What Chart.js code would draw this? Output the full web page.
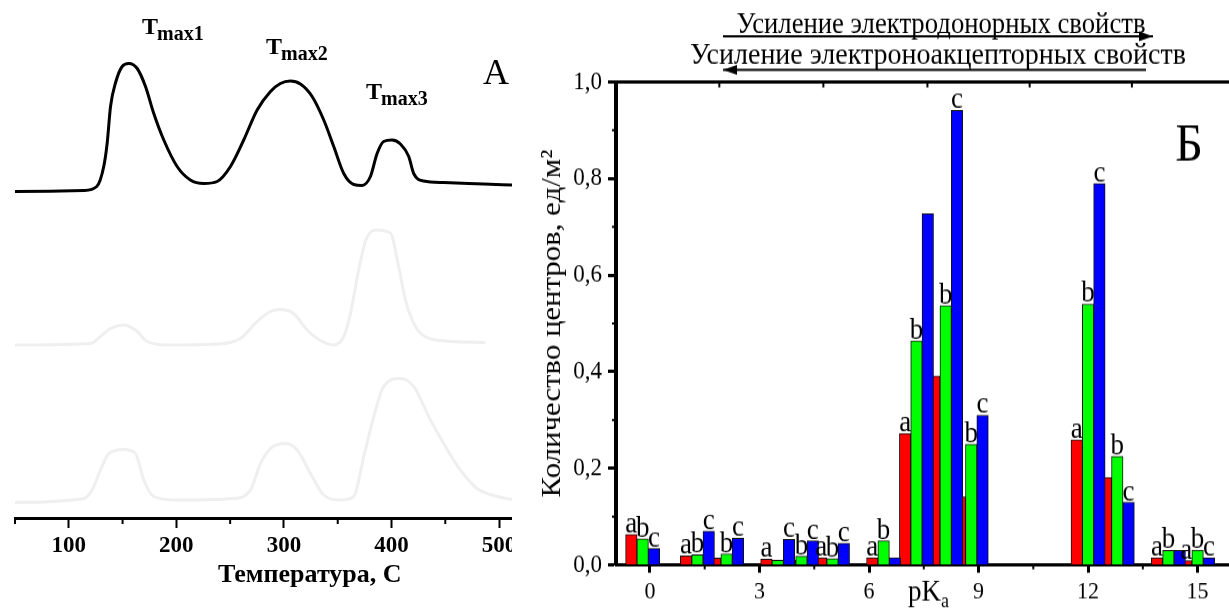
<!DOCTYPE html>
<html>
<head>
<meta charset="utf-8">
<script src="https://cdn.jsdelivr.net/npm/chart.js@4.4.1/dist/chart.umd.min.js"></script>
<style>
    html, body { margin: 0; padding: 0; background: #fff; overflow: hidden; }
    #wrapA { position: absolute; left: 0; top: 0; width: 512px; height: 608px; }
    /* panel B of the original is slightly stretched vertically */
    #wrapB { position: absolute; left: 520px; top: 0; width: 709px; height: 553px; transform: scaleY(1.1); transform-origin: 0 0; }
</style>
</head>
<body>
<div id="wrapA"><canvas id="chartA" width="512" height="608"></canvas></div>
<div id="wrapB"><canvas id="chartB" width="709" height="553"></canvas></div>
<script>
// ---- panel A: TPD curves (temperature, arbitrary signal) ----
const tempTicks = [100, 200, 300, 400, 500];
const tempMinorTicks = [50, 150, 250, 350, 450];

const blackTemp = [50, 114, 126, 132.5, 135.7, 138.8, 143.4, 149.6, 155.8, 163.6, 171.3, 179, 188.3, 200.7, 213, 225.5, 237.9, 250.3, 262.6, 275.1, 287.5, 296.7, 306, 315.3, 326.2, 337, 346.3, 355.6, 364.9, 372.6, 380.4, 386.6, 392.7, 400.5, 408.3, 416, 420.6, 429.9, 448.5, 485.7, 512];
const blackSignal = [65.3, 65.5, 66.3, 70.3, 75, 82.3, 87, 90.3, 90.9, 89.9, 86.3, 80.9, 75.6, 70.3, 67.6, 66.9, 67.3, 70.3, 75.6, 81.6, 85.3, 86.9, 87.4, 86.8, 84.3, 79.6, 74.3, 68.9, 66.7, 66.5, 68.3, 72.9, 75.3, 75.6, 74.8, 72.3, 68.9, 67.4, 67.1, 66.8, 66.6];

const greyTemp1 = [50, 120, 129.5, 138.8, 151, 162, 172.9, 191.4, 237.9, 259.6, 275.1, 287.5, 296.7, 309, 321.5, 330.8, 346.3, 355.6, 362, 368, 376, 385, 399, 406.6, 412.9, 419.2, 425.3, 440.8, 487.2];
const greySignal1 = [34.6, 34.9, 36.3, 37.9, 38.6, 37.6, 35.3, 34.6, 34.8, 35.9, 39.3, 41.3, 41.7, 40.9, 37.6, 35.9, 34.6, 36.3, 41, 48, 55.5, 57.6, 57, 50.3, 43.6, 39.6, 37.3, 35.6, 35.1];

const greyTemp2 = [50, 114, 121.7, 129.5, 137.2, 151.1, 162, 169.7, 179, 200.7, 253.3, 268.9, 278.2, 287.5, 301.4, 312.3, 324.6, 337, 352.5, 364.9, 374.2, 383.5, 392.7, 408.3, 420.6, 436.2, 448.5, 464, 479.5, 498.1, 512];
const greySignal2 = [3.1, 3.9, 5.6, 9.6, 12.9, 13.7, 12.9, 7.6, 4.3, 3.6, 3.9, 5.6, 10.9, 13.9, 14.9, 13.6, 8.9, 4.6, 3.6, 4.3, 12.3, 20.3, 26.3, 27.9, 26.3, 19.6, 14.9, 9.6, 5.9, 4.3, 3.7];

// ---- panel B: acid centres by pKa ----
const pkaGroups = [-0.2, 1.3, 2.1, 3.5, 4.15, 5.0, 6.4, 7.3, 8.1, 8.8, 12.0, 12.8, 14.2, 15.0];
const centresA = [0.063, 0.019, 0.014, 0.012, 0.010, 0.015, 0.015, 0.272, 0.391, 0.141, 0.259, 0.181, 0.015, 0.009];
const centresB = [0.054, 0.021, 0.023, 0.010, 0.018, 0.013, 0.050, 0.464, 0.537, 0.250, 0.540, 0.225, 0.030, 0.031];
const centresC = [0.034, 0.070, 0.055, 0.053, 0.050, 0.045, 0.015, 0.727, 0.941, 0.310, 0.790, 0.130, 0.030, 0.015];
const marksA = ['a', 'a', '', 'a', '', 'a', 'a', 'a', '', '', 'a', '', 'a', 'a'];
const marksB = ['b', 'b', 'b', '', 'b', 'b', 'b', 'b', 'b', 'b', 'b', 'b', 'b', 'b'];
const marksC = ['c', 'c', 'c', 'c', 'c', 'c', '', '', 'c', 'c', 'c', 'c', '', 'c'];
const pkaTicks = [0, 3, 6, 9, 12, 15];
const pkaMinorTicks = [1.5, 4.5, 7.5, 10.5, 13.5];
const pkaTopTicks = [1.9, 4.75, 7.6, 10.4, 13.2];
const centreTicks = [0, 0.2, 0.4, 0.6, 0.8, 1.0];
const centreMinorTicks = [0.1, 0.3, 0.5, 0.7, 0.9];

const SERIF = '"Liberation Serif", "Times New Roman", serif';

function toPoints(xs, ys) {
    return xs.map((x, i) => ({ x: x, y: ys[i] }));
}

// Tmax labels, letter "A", axis title and minor ticks for panel A
const panelAExtras = {
    id: 'panelAExtras',
    afterDraw(chart) {
        const { ctx, chartArea, scales: { x } } = chart;
        ctx.save();
        ctx.strokeStyle = '#000';
        ctx.lineWidth = 2;
        tempMinorTicks.forEach(v => {
            const px = x.getPixelForValue(v);
            ctx.beginPath();
            ctx.moveTo(px, chartArea.bottom);
            ctx.lineTo(px, chartArea.bottom + 6);
            ctx.stroke();
        });

        ctx.fillStyle = '#000';
        ctx.textBaseline = 'alphabetic';
        const tmax = [['max1', 142, 34], ['max2', 266, 54], ['max3', 366, 99]];
        tmax.forEach(([sub, left, base]) => {
            ctx.font = 'bold 24px ' + SERIF;
            ctx.textAlign = 'left';
            ctx.fillText('T', left, base);
            const w = ctx.measureText('T').width;
            ctx.font = 'bold 20px ' + SERIF;
            ctx.fillText(sub, left + w - 1, base + 6);
        });

        ctx.font = '36px ' + SERIF;
        ctx.textAlign = 'center';
        ctx.fillText('A', 496, 84);

        ctx.font = 'bold 26px ' + SERIF;
        ctx.textBaseline = 'middle';
        ctx.fillText('Температура, С', x.getPixelForValue(324), 575);
        ctx.restore();
    }
};

new Chart(document.getElementById('chartA'), {
    type: 'line',
    data: {
        datasets: [{
            data: toPoints(greyTemp2, greySignal2),
            borderColor: '#efefef',
        }, {
            data: toPoints(greyTemp1, greySignal1),
            borderColor: '#efefef',
        }, {
            data: toPoints(blackTemp, blackSignal),
            borderColor: '#000',
        }]
    },
    options: {
        responsive: false,
        animation: false,
        devicePixelRatio: 1,
        layout: { padding: { left: 15, right: 0, top: 18, bottom: 0 } },
        elements: {
            point: { radius: 0 },
            line: { borderWidth: 3, cubicInterpolationMode: 'monotone', fill: false }
        },
        plugins: { legend: { display: false }, tooltip: { enabled: false } },
        scales: {
            x: {
                type: 'linear',
                min: 50,
                max: 512,
                afterBuildTicks: axis => { axis.ticks = tempTicks.map(v => ({ value: v })); },
                afterFit: axis => { axis.height = 90; axis.paddingLeft = 0; axis.paddingRight = 0; },
                ticks: {
                    color: '#000',
                    font: { family: SERIF, size: 23, weight: 'bold' },
                    padding: 4,
                    maxRotation: 0,
                    autoSkip: false
                },
                grid: { drawOnChartArea: false, tickLength: 10, tickWidth: 2, color: '#000' },
                border: { color: '#000', width: 3 }
            },
            y: { display: false, min: 0, max: 100 }
        }
    },
    plugins: [panelAExtras]
});

// ---- panel B ----
const seriesOffsets = [-0.31, 0, 0.31];
const seriesMarks = [marksA, marksB, marksC];

function drawArrow(ctx, x1, x2, y, headRight) {
    ctx.beginPath();
    ctx.moveTo(x1, y);
    ctx.lineTo(x2, y);
    ctx.stroke();
    const tip = headRight ? x2 : x1;
    const dir = headRight ? -1 : 1;
    ctx.beginPath();
    ctx.moveTo(tip, y);
    ctx.lineTo(tip + dir * 14, y - 4.5);
    ctx.lineTo(tip + dir * 14, y + 4.5);
    ctx.closePath();
    ctx.fill();
}

const panelBExtras = {
    id: 'panelBExtras',
    afterDatasetsDraw(chart) {
        const ctx = chart.ctx;
        ctx.save();
        ctx.fillStyle = '#000';
        ctx.font = '27px ' + SERIF;
        ctx.textAlign = 'center';
        ctx.textBaseline = 'alphabetic';
        seriesMarks.forEach((marks, k) => {
            chart.getDatasetMeta(k).data.forEach((bar, i) => {
                if (marks[i]) ctx.fillText(marks[i], bar.x, bar.y - 2);
            });
        });
        ctx.restore();
    },
    afterDraw(chart) {
        const { ctx, chartArea, scales: { x, y } } = chart;
        ctx.save();
        ctx.strokeStyle = '#000';
        ctx.fillStyle = '#000';

        // top frame line with its inward ticks
        ctx.lineWidth = 3;
        ctx.beginPath();
        ctx.moveTo(chartArea.left, chartArea.top);
        ctx.lineTo(chartArea.right, chartArea.top);
        ctx.stroke();
        ctx.lineWidth = 2;
        pkaTopTicks.forEach(v => {
            const px = x.getPixelForValue(v);
            ctx.beginPath();
            ctx.moveTo(px, chartArea.top);
            ctx.lineTo(px, chartArea.top + 5);
            ctx.stroke();
        });
        pkaMinorTicks.forEach(v => {
            const px = x.getPixelForValue(v);
            ctx.beginPath();
            ctx.moveTo(px, chartArea.bottom);
            ctx.lineTo(px, chartArea.bottom + 4);
            ctx.stroke();
        });
        centreMinorTicks.forEach(v => {
            const py = y.getPixelForValue(v);
            ctx.beginPath();
            ctx.moveTo(chartArea.left, py);
            ctx.lineTo(chartArea.left - 4, py);
            ctx.stroke();
        });

        // pKa axis title
        ctx.textAlign = 'left';
        ctx.textBaseline = 'alphabetic';
        ctx.font = '27px ' + SERIF;
        ctx.fillText('pK', 388, 546);
        const w = ctx.measureText('pK').width;
        ctx.font = '18px ' + SERIF;
        ctx.fillText('a', 388 + w, 552);

        // header lines with arrows
        ctx.font = '28px ' + SERIF;
        ctx.textAlign = 'center';
        ctx.fillText('Усиление электродонорных свойств', 421, 30, 409);
        ctx.fillText('Усиление электроноакцепторных свойств', 418, 58, 506);
        ctx.lineWidth = 2;
        drawArrow(ctx, 203, 633, 33, true);
        drawArrow(ctx, 203, 626, 63.5, false);

        ctx.font = '48px ' + SERIF;
        ctx.textBaseline = 'middle';
        ctx.fillText('Б', 669, 133);
        ctx.restore();
    }
};

const barColors = ['#ff0000', '#00ff00', '#0000ff'];
const barSeries = [centresA, centresB, centresC];

new Chart(document.getElementById('chartB'), {
    type: 'bar',
    data: {
        datasets: barSeries.map((vals, k) => ({
            data: pkaGroups.map((p, i) => ({ x: p + seriesOffsets[k], y: vals[i] })),
            backgroundColor: barColors[k],
            borderColor: '#111',
            borderWidth: 1,
            grouped: false,
            barThickness: 11.5,
            order: 2 - k
        }))
    },
    options: {
        responsive: false,
        animation: false,
        devicePixelRatio: 1,
        layout: { padding: { left: 0, right: 0, top: 74.5, bottom: 0 } },
        plugins: { legend: { display: false }, tooltip: { enabled: false } },
        scales: {
            x: {
                type: 'linear',
                min: -0.93,
                max: 15.86,
                offset: false,
                afterBuildTicks: axis => { axis.ticks = pkaTicks.map(v => ({ value: v })); },
                afterFit: axis => { axis.height = 39.4; axis.paddingLeft = 0; axis.paddingRight = 0; },
                ticks: {
                    color: '#000',
                    font: { family: SERIF, size: 22 },
                    padding: 4,
                    maxRotation: 0,
                    autoSkip: false
                },
                grid: { offset: false, drawOnChartArea: false, tickLength: 7, tickWidth: 3, color: '#000' },
                border: { color: '#000', width: 3 }
            },
            y: {
                min: 0,
                max: 1,
                afterBuildTicks: axis => { axis.ticks = centreTicks.map(v => ({ value: v })); },
                afterFit: axis => { axis.width = 96; },
                ticks: {
                    color: '#000',
                    font: { family: SERIF, size: 23 },
                    padding: 6,
                    callback: v => v.toFixed(1).replace('.', ',')
                },
                grid: { drawOnChartArea: false, tickLength: 8, tickWidth: 3, color: '#000' },
                border: { color: '#000', width: 4 },
                title: {
                    display: true,
                    text: 'Количество центров, ед/м²',
                    color: '#000',
                    font: { family: SERIF, size: 28 },
                    padding: { top: 16, bottom: 0 }
                }
            }
        }
    },
    plugins: [panelBExtras]
});
</script>
</body>
</html>
